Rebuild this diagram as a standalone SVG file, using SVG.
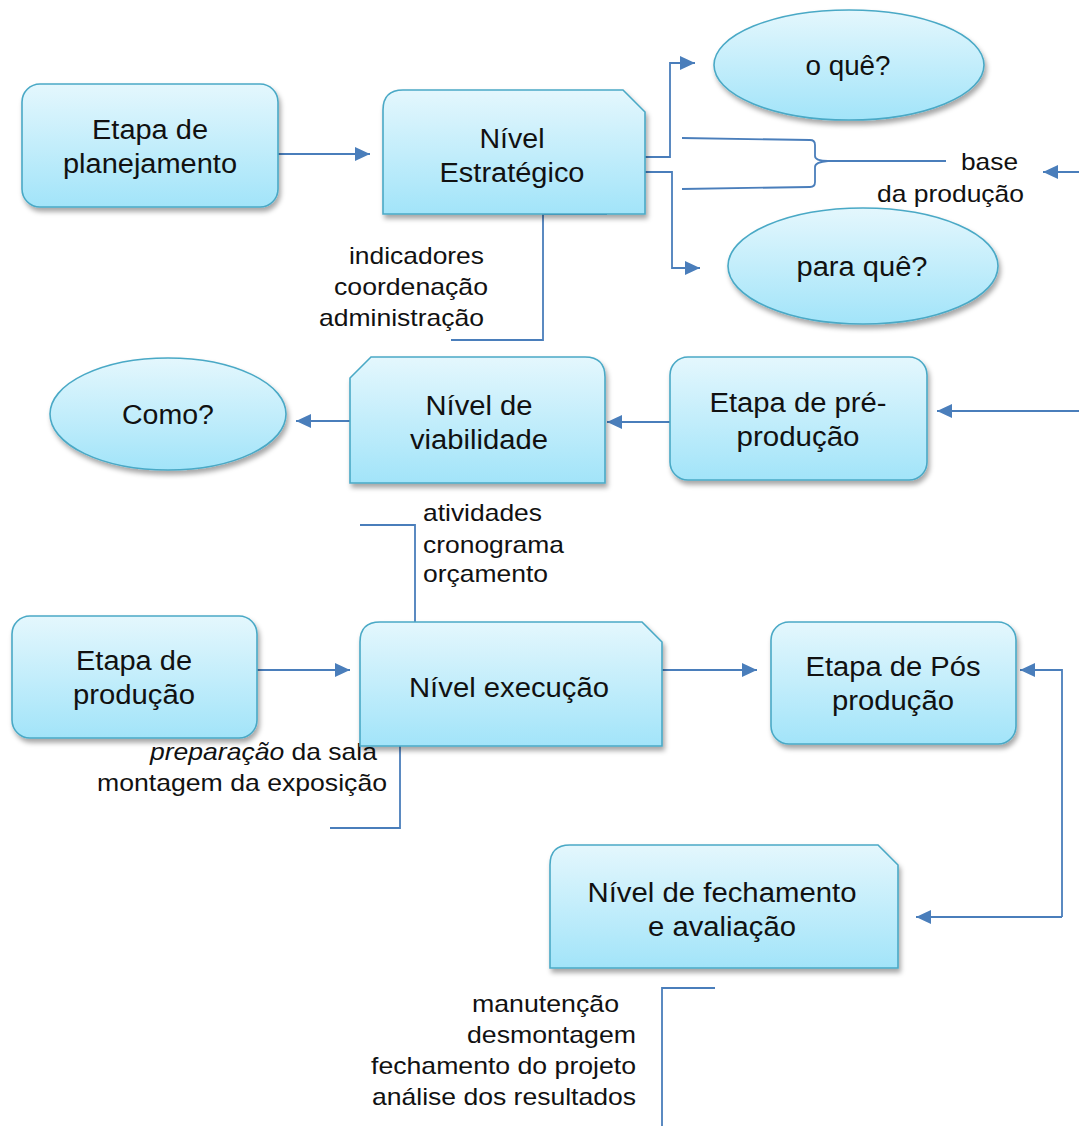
<svg xmlns="http://www.w3.org/2000/svg" width="1079" height="1126" viewBox="0 0 1079 1126">
<defs>
<linearGradient id="fillg" x1="0" y1="0" x2="0" y2="1">
<stop offset="0" stop-color="#e4f7fd"/>
<stop offset="1" stop-color="#a2e4f9"/>
</linearGradient>
<filter id="sh" x="-10%" y="-10%" width="125%" height="135%">
<feDropShadow dx="2" dy="4" stdDeviation="2.5" flood-color="#000" flood-opacity="0.35"/>
</filter>
<marker id="ah" markerUnits="userSpaceOnUse" markerWidth="16" markerHeight="14" refX="15" refY="7" orient="auto">
<path d="M0,0 L15,7 L0,14 Z" fill="#4a7ebb"/>
</marker>
<style>
.n{fill:url(#fillg);stroke:#4aa9c6;stroke-width:1.6;filter:url(#sh)}
.t{font-family:"Liberation Sans",Arial,sans-serif;font-size:27px;fill:#111;text-anchor:middle}
.s{font-family:"Liberation Sans",Arial,sans-serif;font-size:24px;fill:#111}
.c{fill:none;stroke:#4a7ebb;stroke-width:1.8}
.a{marker-end:url(#ah)}
</style>
</defs>
<rect width="1079" height="1126" fill="#fff"/>
<g id="connectors">
<path class="c a" d="M278,154 L370,154"/>
<path class="c a" d="M645,157 L670,157 L670,63 L695,63"/>
<path class="c a" d="M645,172 L672,172 L672,268 L700,268"/>
<path class="c" d="M682,138 L810,140 Q815,140 815,145 L815,156 Q815,161 828,161 L946,161"/>
<path class="c" d="M682,189 L810,187 Q815,187 815,182 L815,167 Q815,162 828,161"/>
<path class="c a" d="M1079,172 L1043,172"/>
<path class="c" d="M543,214 L607,214 M543,214 L543,340 L451,340"/>
<path class="c a" d="M1079,411 L937,411"/>
<path class="c a" d="M670,422 L607,422"/>
<path class="c a" d="M358,421 L296,421"/>
<path class="c" d="M360,525 L415,525 L415,622"/>
<path class="c a" d="M245,670 L350,670"/>
<path class="c a" d="M662,670 L757,670"/>
<path class="c" d="M400,746 L400,828 L330,828"/>
<path class="c a" d="M1062,917 L1062,670 L1020,670"/>
<path class="c a" d="M1062,917 L916,917"/>
<path class="c" d="M715,988 L662,988 L662,1126"/>
</g>
<g id="labels">
<text class="s" x="961" y="170" textLength="57" lengthAdjust="spacingAndGlyphs">base</text>
<text class="s" x="877" y="202" textLength="147" lengthAdjust="spacingAndGlyphs">da produção</text>
<text class="s" x="349" y="264" textLength="135" lengthAdjust="spacingAndGlyphs">indicadores</text>
<text class="s" x="334" y="295" textLength="154" lengthAdjust="spacingAndGlyphs">coordenação</text>
<text class="s" x="319" y="326" textLength="165" lengthAdjust="spacingAndGlyphs">administração</text>
<text class="s" x="423" y="521" textLength="119" lengthAdjust="spacingAndGlyphs">atividades</text>
<text class="s" x="423" y="553" textLength="141" lengthAdjust="spacingAndGlyphs">cronograma</text>
<text class="s" x="423" y="582" textLength="125" lengthAdjust="spacingAndGlyphs">orçamento</text>
<text class="s" x="150" y="760" textLength="227" lengthAdjust="spacingAndGlyphs"><tspan font-style="italic">preparação</tspan> da sala</text>
<text class="s" x="97" y="791" textLength="290" lengthAdjust="spacingAndGlyphs">montagem da exposição</text>
<text class="s" x="472" y="1012" textLength="147" lengthAdjust="spacingAndGlyphs">manutenção</text>
<text class="s" x="467" y="1043" textLength="169" lengthAdjust="spacingAndGlyphs">desmontagem</text>
<text class="s" x="371" y="1074" textLength="265" lengthAdjust="spacingAndGlyphs">fechamento do projeto</text>
<text class="s" x="372" y="1105" textLength="264" lengthAdjust="spacingAndGlyphs">análise dos resultados</text>
</g>
<g id="n-planejamento">
<rect class="n" x="22" y="84" width="256" height="123" rx="18"/>
<text class="t" x="150" y="139" textLength="116" lengthAdjust="spacingAndGlyphs">Etapa de</text>
<text class="t" x="150" y="173" textLength="174" lengthAdjust="spacingAndGlyphs">planejamento</text>
</g>
<g id="n-estrategico">
<path class="n" d="M383,110 Q383,90 403,90 L623,90 L645,112 L645,214 L383,214 Z"/>
<text class="t" x="512" y="148" textLength="65" lengthAdjust="spacingAndGlyphs">Nível</text>
<text class="t" x="512" y="182" textLength="145" lengthAdjust="spacingAndGlyphs">Estratégico</text>
</g>
<g id="n-oque">
<ellipse class="n" cx="849" cy="65" rx="135" ry="55"/>
<text class="t" x="848" y="75" textLength="85" lengthAdjust="spacingAndGlyphs">o quê?</text>
</g>
<g id="n-paraque">
<ellipse class="n" cx="863" cy="266" rx="135" ry="58"/>
<text class="t" x="862" y="276" textLength="131" lengthAdjust="spacingAndGlyphs">para quê?</text>
</g>
<g id="n-como">
<ellipse class="n" cx="168" cy="414" rx="118" ry="56"/>
<text class="t" x="168" y="424" textLength="92" lengthAdjust="spacingAndGlyphs">Como?</text>
</g>
<g id="n-viabilidade">
<path class="n" d="M350,378 L371,357 L585,357 Q605,357 605,377 L605,483 L350,483 Z"/>
<text class="t" x="479" y="415" textLength="107" lengthAdjust="spacingAndGlyphs">Nível de</text>
<text class="t" x="479" y="449" textLength="138" lengthAdjust="spacingAndGlyphs">viabilidade</text>
</g>
<g id="n-preproducao">
<rect class="n" x="670" y="357" width="257" height="123" rx="18"/>
<text class="t" x="798" y="412" textLength="177" lengthAdjust="spacingAndGlyphs">Etapa de pré-</text>
<text class="t" x="798" y="446" textLength="123" lengthAdjust="spacingAndGlyphs">produção</text>
</g>
<g id="n-producao">
<rect class="n" x="12" y="616" width="245" height="122" rx="18"/>
<text class="t" x="134" y="670" textLength="116" lengthAdjust="spacingAndGlyphs">Etapa de</text>
<text class="t" x="134" y="704" textLength="122" lengthAdjust="spacingAndGlyphs">produção</text>
</g>
<g id="n-execucao">
<path class="n" d="M360,642 Q360,622 380,622 L642,622 L662,642 L662,746 L360,746 Z"/>
<text class="t" x="509" y="697" textLength="200" lengthAdjust="spacingAndGlyphs">Nível execução</text>
</g>
<g id="n-posproducao">
<rect class="n" x="771" y="622" width="245" height="122" rx="18"/>
<text class="t" x="893" y="676" textLength="175" lengthAdjust="spacingAndGlyphs">Etapa de Pós</text>
<text class="t" x="893" y="710" textLength="122" lengthAdjust="spacingAndGlyphs">produção</text>
</g>
<g id="n-fechamento">
<path class="n" d="M550,865 Q550,845 570,845 L878,845 L898,865 L898,968 L550,968 Z"/>
<text class="t" x="722" y="902" textLength="269" lengthAdjust="spacingAndGlyphs">Nível de fechamento</text>
<text class="t" x="722" y="936" textLength="148" lengthAdjust="spacingAndGlyphs">e avaliação</text>
</g>
</svg>
